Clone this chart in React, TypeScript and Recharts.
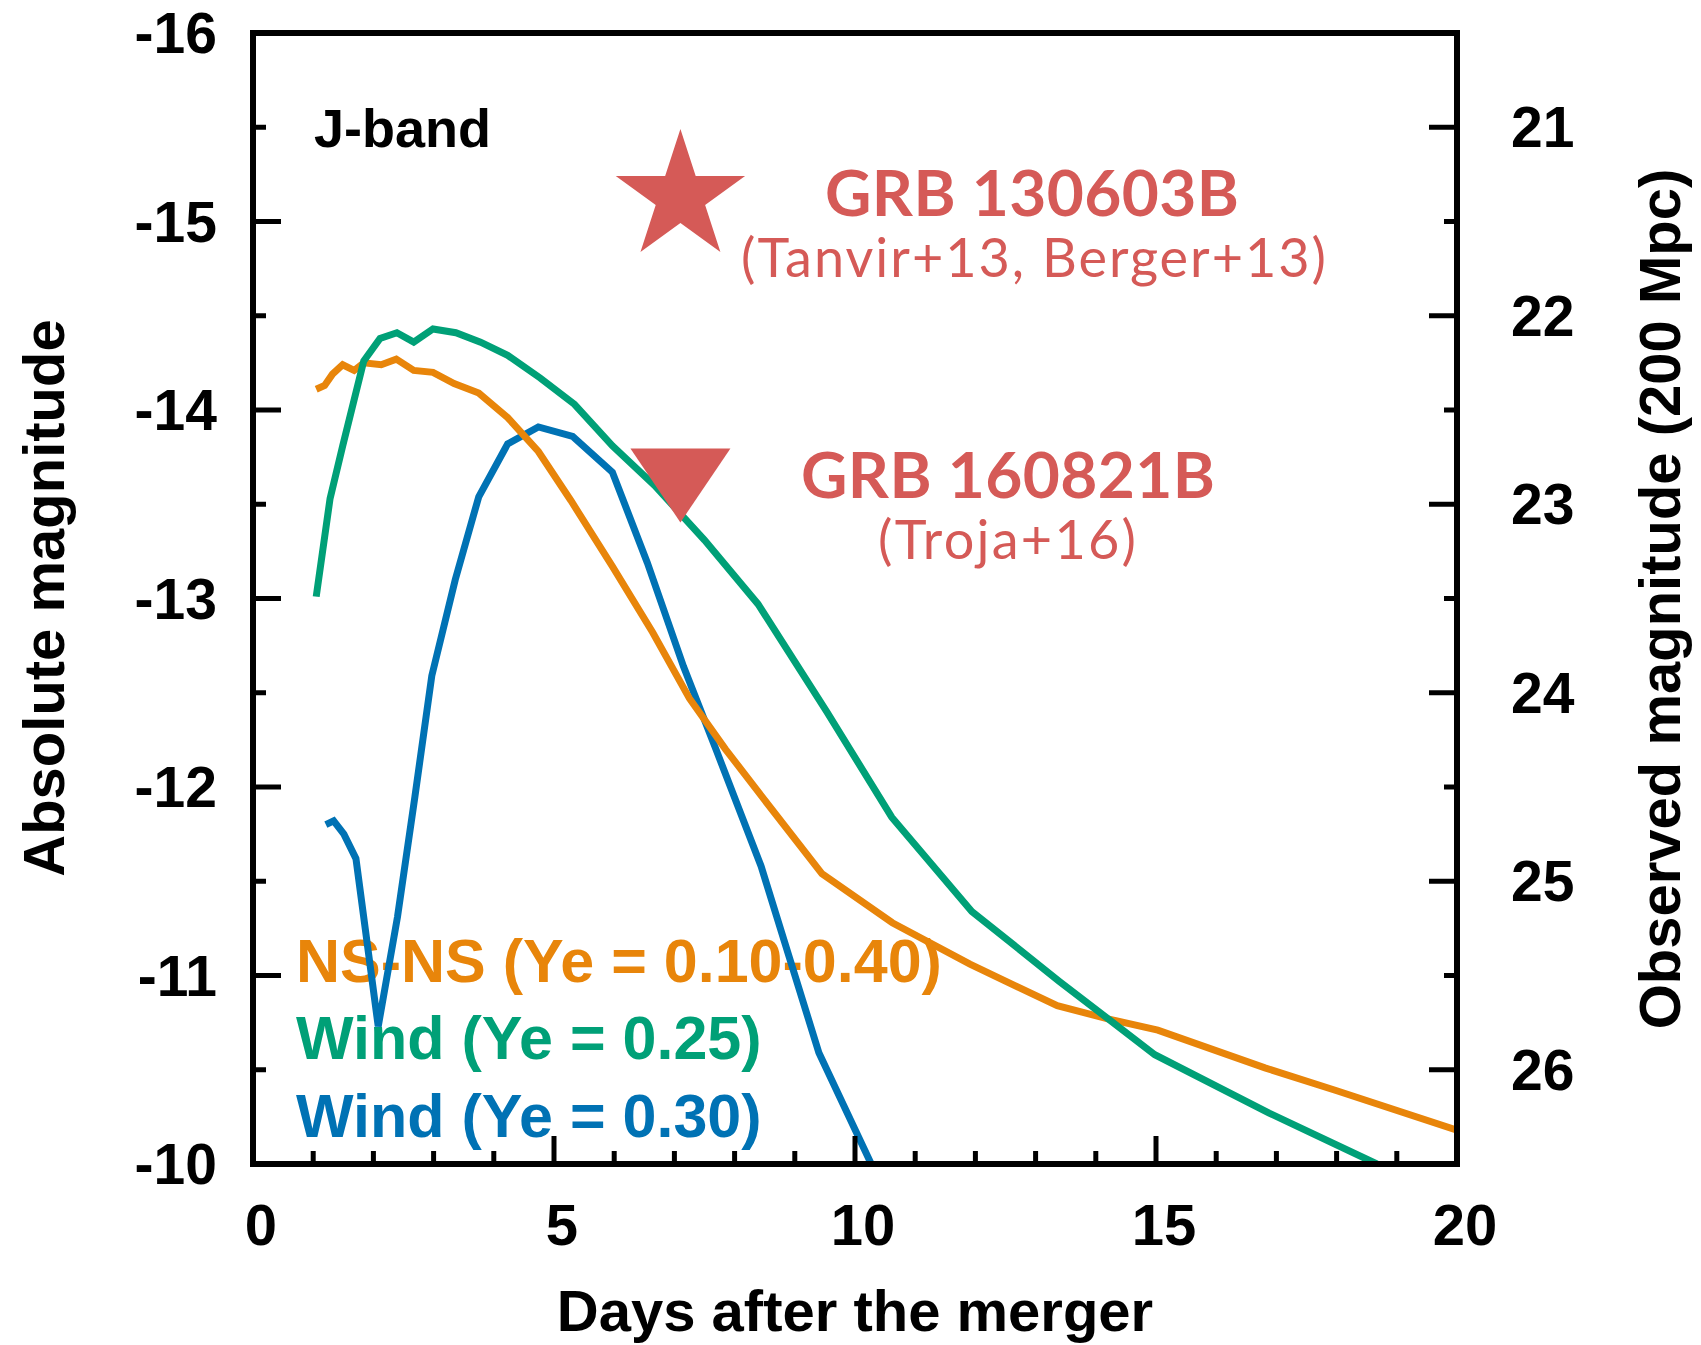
import React from 'react';
import { ComposedChart, Line, Scatter, XAxis, YAxis, Customized } from 'recharts';

// NS-NS merger (Ye = 0.10-0.40), J-band absolute magnitude
const nsnsDays = [1.05, 1.19, 1.32, 1.49, 1.68, 1.84, 2.13, 2.38, 2.67, 2.99, 3.34, 3.75, 4.23, 4.74, 5.28, 5.97, 6.64, 7.25, 7.85, 8.5, 9.45, 10.62, 11.91, 13.36, 14.2, 15.03, 16.81, 17.99, 20.0];
const nsnsMag = [-14.11, -14.13, -14.19, -14.24, -14.21, -14.25, -14.24, -14.27, -14.21, -14.2, -14.14, -14.09, -13.96, -13.78, -13.52, -13.17, -12.82, -12.47, -12.2, -11.93, -11.54, -11.28, -11.06, -10.84, -10.77, -10.71, -10.51, -10.39, -10.18];

// Wind (Ye = 0.25)
const wind25Days = [1.05, 1.28, 1.49, 1.84, 2.11, 2.39, 2.67, 2.99, 3.37, 3.78, 4.23, 4.77, 5.34, 5.97, 6.67, 7.5, 8.39, 9.53, 10.61, 11.94, 13.39, 14.98, 16.88, 18.67];
const wind25Mag = [-13.01, -13.53, -13.81, -14.26, -14.38, -14.41, -14.36, -14.43, -14.41, -14.36, -14.29, -14.17, -14.03, -13.81, -13.6, -13.31, -12.97, -12.4, -11.84, -11.34, -10.97, -10.58, -10.27, -10.0];

// Wind (Ye = 0.30)
const wind30Days = [1.21, 1.34, 1.51, 1.71, 2.08, 2.4, 2.69, 2.97, 3.36, 3.75, 4.23, 4.74, 5.31, 5.97, 6.55, 7.15, 7.69, 8.44, 9.4, 10.27];
const wind30Mag = [-11.8, -11.82, -11.75, -11.62, -10.73, -11.31, -11.95, -12.59, -13.1, -13.54, -13.82, -13.91, -13.86, -13.67, -13.19, -12.64, -12.2, -11.58, -10.59, -10.0];

// observations
const grb130603Day = [7.1];
const grb130603Mag = [-15.13];
const grb160821Day = [7.1];
const grb160821Mag = [-13.6];

const dayTicks = [0, 1, 2, 3, 4, 5, 6, 7, 8, 9, 10, 11, 12, 13, 14, 15, 16, 17, 18, 19, 20];
const absTicks = [-16, -15.5, -15, -14.5, -14, -13.5, -13, -12.5, -12, -11.5, -11, -10.5, -10];
const obsTicks = [20.5, 21, 21.5, 22, 22.5, 23, 23.5, 24, 24.5, 25, 25.5, 26, 26.5];

const toPoints = (xs: number[], ys: number[]) => xs.map((x, i) => ({ x, y: ys[i] }));

const nsnsData = toPoints(nsnsDays, nsnsMag);
const wind25Data = toPoints(wind25Days, wind25Mag);
const wind30Data = toPoints(wind30Days, wind30Mag);
const starData = toPoints(grb130603Day, grb130603Mag);
const triData = toPoints(grb160821Day, grb160821Mag);

const ORANGE = '#E8850A';
const GREEN = '#00A077';
const BLUE = '#0072B4';
const RED = '#D55A57';
const FONT = '"Liberation Sans", Arial, Helvetica, sans-serif';
const CAL = 'Lato, "Open Sans", sans-serif';

const LONG = 28;
const SHORT = 13;

const BottomTick = (props: any) => {
  const { x, y, payload } = props;
  const v = payload.value;
  const major = v % 5 === 0;
  return (
    <g>
      <line x1={x} y1={y} x2={x} y2={y - (major ? LONG : SHORT)} stroke="#000" strokeWidth={5} />
      {major && (
        <text x={x + 8} y={y + 81} textAnchor="middle" fontFamily={FONT} fontWeight="bold" fontSize={58} fill="#000">
          {v}
        </text>
      )}
    </g>
  );
};

const TopTick = (props: any) => {
  const { x, y, payload } = props;
  const major = payload.value % 5 === 0;
  return <line x1={x} y1={y} x2={x} y2={y + (major ? LONG : SHORT)} stroke="#000" strokeWidth={5} />;
};

const LeftTick = (props: any) => {
  const { x, y, payload } = props;
  const v = payload.value;
  const major = Number.isInteger(v);
  return (
    <g>
      <line x1={x} y1={y} x2={x + (major ? LONG : SHORT)} y2={y} stroke="#000" strokeWidth={5} />
      {major && (
        <text x={x - 36} y={y + 20} textAnchor="end" fontFamily={FONT} fontWeight="bold" fontSize={57} fill="#000">
          {v}
        </text>
      )}
    </g>
  );
};

const RightTick = (props: any) => {
  const { x, y, payload } = props;
  const v = payload.value;
  const major = Number.isInteger(v);
  return (
    <g>
      <line x1={x} y1={y} x2={x - (major ? LONG : SHORT)} y2={y} stroke="#000" strokeWidth={5} />
      {major && (
        <text x={x + 54} y={y + 20} textAnchor="start" fontFamily={FONT} fontWeight="bold" fontSize={57} fill="#000">
          {v}
        </text>
      )}
    </g>
  );
};

const StarShape = (props: any) => {
  const { cx, cy } = props;
  const R = 68;
  const r = R * 0.382;
  const pts: string[] = [];
  for (let i = 0; i < 10; i++) {
    const rad = i % 2 === 0 ? R : r;
    const a = -Math.PI / 2 + (i * Math.PI) / 5;
    pts.push(`${cx + rad * Math.cos(a)},${cy + rad * Math.sin(a)}`);
  }
  return <polygon points={pts.join(' ')} fill={RED} />;
};

const TriangleShape = (props: any) => {
  const { cx, cy } = props;
  return <polygon points={`${cx - 50},${cy - 37} ${cx + 50},${cy - 37} ${cx},${cy + 37}`} fill={RED} />;
};

const Annotations = () => (
  <g>
    <text x={64} y={598} transform="rotate(-90 64 598)" textAnchor="middle" fontFamily={FONT} fontWeight="bold" fontSize={58} fill="#000">
      Absolute magnitude
    </text>
    <text x={1680} y={599} transform="rotate(-90 1680 599)" textAnchor="middle" fontFamily={FONT} fontWeight="bold" fontSize={58} fill="#000">
      Observed magnitude (200 Mpc)
    </text>
    <text x={855} y={1331} textAnchor="middle" fontFamily={FONT} fontWeight="bold" fontSize={58} fill="#000">
      Days after the merger
    </text>
    <text x={314} y={147} fontFamily={FONT} fontWeight="bold" fontSize={54} fill="#000">
      J-band
    </text>

    <text x={825} y={216} textLength={414} fontFamily={CAL} fontWeight={700} fontSize={64} fill={RED}>
      GRB 130603B
    </text>
    <text x={741} y={277} textLength={585} fontFamily={CAL} fontWeight={400} fontSize={54} fill={RED}>
      (Tanvir+13, Berger+13)
    </text>
    <text x={801} y={498} textLength={414} fontFamily={CAL} fontWeight={700} fontSize={64} fill={RED}>
      GRB 160821B
    </text>
    <text x={878} y={559} textLength={258} fontFamily={CAL} fontWeight={400} fontSize={54} fill={RED}>
      (Troja+16)
    </text>

    <text x={296} y={982} fontFamily={FONT} fontWeight="bold" fontSize={61} fill={ORANGE}>
      NS-NS (Ye = 0.10-0.40)
    </text>
    <text x={296} y={1059} fontFamily={FONT} fontWeight="bold" fontSize={61} fill={GREEN}>
      Wind (Ye = 0.25)
    </text>
    <text x={296} y={1137} fontFamily={FONT} fontWeight="bold" fontSize={61} fill={BLUE}>
      Wind (Ye = 0.30)
    </text>
  </g>
);

const axisLine = { stroke: '#000', strokeWidth: 6, strokeLinecap: 'square' as const };

export default function App() {
  return (
    <div style={{ position: 'absolute', left: 0, top: 0, width: 1701, height: 1345, background: '#fff' }}>
      <ComposedChart width={1701} height={1345} margin={{ top: 3, right: 0, bottom: 0, left: 0 }}>
        <XAxis
          xAxisId="bottom"
          dataKey="x"
          type="number"
          domain={[0, 20]}
          ticks={dayTicks}
          interval={0}
          allowDataOverflow
          height={181}
          tickSize={0}
          tickMargin={0}
          tickLine={false}
          axisLine={axisLine}
          tick={<BottomTick />}
        />
        <XAxis
          xAxisId="top"
          orientation="top"
          type="number"
          domain={[0, 20]}
          ticks={dayTicks}
          interval={0}
          allowDataOverflow
          height={30}
          tickSize={0}
          tickMargin={0}
          tickLine={false}
          axisLine={axisLine}
          tick={<TopTick />}
        />
        <YAxis
          yAxisId="abs"
          type="number"
          domain={[-16, -10]}
          reversed
          ticks={absTicks}
          interval={0}
          allowDataOverflow
          width={253}
          tickSize={0}
          tickMargin={0}
          tickLine={false}
          axisLine={axisLine}
          tick={<LeftTick />}
        />
        <YAxis
          yAxisId="obs"
          orientation="right"
          type="number"
          domain={[20.5, 26.5]}
          reversed
          ticks={obsTicks}
          interval={0}
          allowDataOverflow
          width={244}
          tickSize={0}
          tickMargin={0}
          tickLine={false}
          axisLine={axisLine}
          tick={<RightTick />}
        />

        <Scatter xAxisId="bottom" yAxisId="abs" data={starData} dataKey="y" shape={<StarShape />} isAnimationActive={false} />
        <Scatter xAxisId="bottom" yAxisId="abs" data={triData} dataKey="y" shape={<TriangleShape />} isAnimationActive={false} />

        <Line xAxisId="bottom" yAxisId="abs" data={wind30Data} dataKey="y" type="linear" stroke={BLUE} strokeWidth={7} dot={false} activeDot={false} isAnimationActive={false} />
        <Line xAxisId="bottom" yAxisId="abs" data={nsnsData} dataKey="y" type="linear" stroke={ORANGE} strokeWidth={7} dot={false} activeDot={false} isAnimationActive={false} />
        <Line xAxisId="bottom" yAxisId="abs" data={wind25Data} dataKey="y" type="linear" stroke={GREEN} strokeWidth={7} dot={false} activeDot={false} isAnimationActive={false} />

        <Customized component={Annotations} />
      </ComposedChart>
    </div>
  );
}
